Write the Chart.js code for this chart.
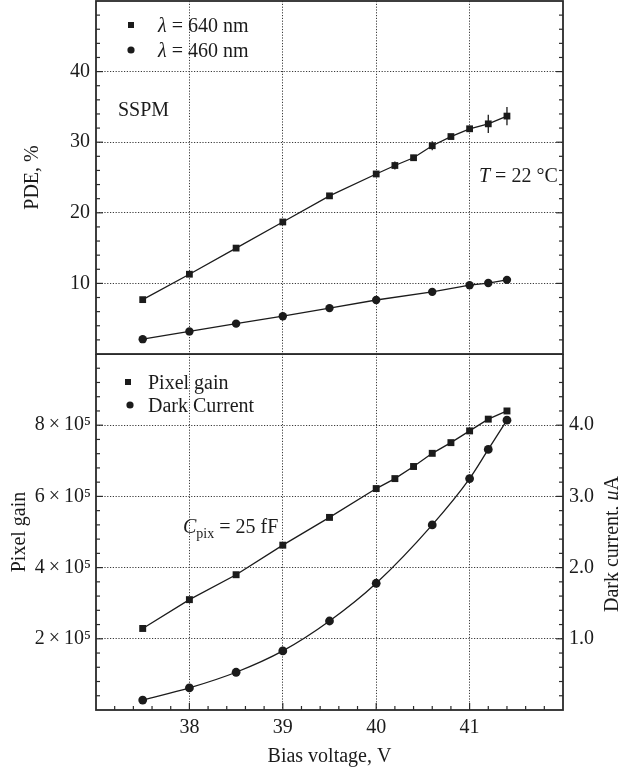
<!DOCTYPE html>
<html>
<head>
<meta charset="utf-8">
<script src="https://cdn.jsdelivr.net/npm/chart.js@4.4.1/dist/chart.umd.min.js"></script>
<style>
  html, body { margin: 0; padding: 0; background: #fff; }
  body { width: 618px; height: 773px; position: relative; overflow: hidden; }
  #graficoPde { position: absolute; left: 0; top: 0; }
  #graficoGain { position: absolute; left: 0; top: 354px; }
</style>
</head>
<body>
<canvas id="graficoPde" width="618" height="356"></canvas>
<canvas id="graficoGain" width="618" height="419"></canvas>
<script>
// datos panel superior (PDE, %)
const voltsPde640 = [37.5, 38, 38.5, 39, 39.5, 40, 40.2, 40.4, 40.6, 40.8, 41, 41.2, 41.4];
const pde640 = [7.7, 11.3, 15.0, 18.7, 22.4, 25.5, 26.7, 27.8, 29.5, 30.8, 31.9, 32.6, 33.7];
const pde640Err = [0, 0, 0, 0, 0, 0, 0.55, 0.4, 0.65, 0.3, 0.3, 1.3, 1.3];
const voltsPde460 = [37.5, 38, 38.5, 39, 39.5, 40, 40.6, 41, 41.2, 41.4];
const pde460 = [2.1, 3.2, 4.3, 5.35, 6.5, 7.65, 8.8, 9.75, 10.05, 10.5];

// datos panel inferior
const voltsGain = [37.5, 38, 38.5, 39, 39.5, 40, 40.2, 40.4, 40.6, 40.8, 41, 41.2, 41.4];
const pixelGain = [2.29e5, 3.10e5, 3.80e5, 4.63e5, 5.41e5, 6.22e5, 6.50e5, 6.84e5, 7.21e5, 7.51e5, 7.84e5, 8.17e5, 8.40e5];
const voltsDark = [37.5, 38, 38.5, 39, 39.5, 40, 40.6, 41, 41.2, 41.4];
const darkCurrent = [0.14, 0.31, 0.53, 0.83, 1.25, 1.78, 2.60, 3.25, 3.66, 4.07];

// ejes
const voltTicks = [38, 39, 40, 41];
const pdeTicks = [10, 20, 30, 40];
const gainTicks = [2e5, 4e5, 6e5, 8e5];
const darkTicks = [1, 2, 3, 4];

const ink = '#1b1b1b';
const serif = '"Liberation Serif", "Times New Roman", serif';
const tickFont = { family: serif, size: 20 };

const toPoints = (xs, ys) => xs.map((x, i) => ({ x: x, y: ys[i] }));

const dottedGrid = (list) => ({
    drawTicks: false,
    lineWidth: 1,
    color: ctx => (ctx.tick && list.includes(ctx.tick.value)) ? '#3a3a3a' : 'rgba(0,0,0,0)'
});
const hiddenBorder = { display: false, dash: [1.2, 1.6] };

// sin relleno extra para las etiquetas de los extremos
const noPad = s => { s.paddingTop = 0; s.paddingBottom = 0; s.paddingLeft = 0; s.paddingRight = 0; };

// texto con partes en cursiva / subindice
const drawRich = (ctx, x, y, parts, align) => {
    const fontOf = p => (p.italic ? 'italic ' : '') + (p.sub ? 14 : 20) + 'px ' + serif;
    let total = 0;
    parts.forEach(p => { ctx.font = fontOf(p); total += ctx.measureText(p.t).width; });
    let cx = align === 'center' ? x - total / 2 : x;
    parts.forEach(p => {
        ctx.font = fontOf(p);
        ctx.fillText(p.t, cx, y + (p.sub ? 5 : 0));
        cx += ctx.measureText(p.t).width;
    });
};

const panelPlugin = {
    id: 'panel',
    afterDatasetsDraw(chart) {
        const ctx = chart.ctx;
        chart.data.datasets.forEach((ds, i) => {
            if (!ds.errors) return;
            const meta = chart.getDatasetMeta(i);
            const ys = chart.scales[meta.yAxisID];
            ctx.save();
            ctx.strokeStyle = ink;
            ctx.lineWidth = 1.3;
            ds.data.forEach((p, j) => {
                const e = ds.errors[j];
                if (!e) return;
                const x = chart.scales.x.getPixelForValue(p.x);
                ctx.beginPath();
                ctx.moveTo(x, ys.getPixelForValue(p.y - e));
                ctx.lineTo(x, ys.getPixelForValue(p.y + e));
                ctx.stroke();
            });
            ctx.restore();
        });
    },
    afterDraw(chart, args, opts) {
        const ctx = chart.ctx;
        const a = chart.chartArea;
        ctx.save();
        ctx.strokeStyle = '#2a2a2a';
        ctx.lineWidth = 1.2;
        // marcas hacia adentro
        (opts.marks || []).forEach(m => {
            const s = chart.scales[m.scale];
            const n = Math.round((s.max - s.min) / m.step);
            for (let k = 1; k < n; k++) {
                const v = s.min + k * m.step;
                const r = v / m.major;
                const len = Math.abs(r - Math.round(r)) < 1e-6 ? 7 : 4;
                const p = s.getPixelForValue(v);
                m.sides.forEach(side => {
                    ctx.beginPath();
                    if (side === 'left') { ctx.moveTo(a.left, p); ctx.lineTo(a.left + len, p); }
                    if (side === 'right') { ctx.moveTo(a.right, p); ctx.lineTo(a.right - len, p); }
                    if (side === 'bottom') { ctx.moveTo(p, a.bottom); ctx.lineTo(p, a.bottom - len); }
                    ctx.stroke();
                });
            }
        });
        // marco
        ctx.lineWidth = 1.8;
        ctx.strokeStyle = '#2a2a2a';
        ctx.strokeRect(a.left, a.top, a.right - a.left, a.bottom - a.top);

        // leyenda
        ctx.fillStyle = ink;
        ctx.textBaseline = 'alphabetic';
        (opts.legend || []).forEach(item => {
            if (item.marker === 'rect') {
                ctx.fillRect(item.mx - 3, item.y - 3, 6, 6);
            } else {
                ctx.beginPath();
                ctx.arc(item.mx, item.y, 3.6, 0, Math.PI * 2);
                ctx.fill();
            }
            drawRich(ctx, item.tx, item.y + 7, item.parts, 'left');
        });
        // anotaciones
        (opts.notes || []).forEach(n => {
            if (n.rotate) {
                ctx.save();
                ctx.translate(n.x, n.y);
                ctx.rotate(-Math.PI / 2);
                drawRich(ctx, 0, 7, n.parts, 'center');
                ctx.restore();
            } else {
                drawRich(ctx, n.x, n.y + 7, n.parts, 'left');
            }
        });
        ctx.restore();
    }
};

// GRAFICA 1 - PDE
window.graficaPde = new Chart(document.getElementById('graficoPde'), {
    type: 'scatter',
    data: {
        datasets: [{
            label: 'λ = 640 nm',
            data: toPoints(voltsPde640, pde640),
            errors: pde640Err,
            showLine: true,
            borderColor: ink,
            borderWidth: 1.3,
            pointStyle: 'rect',
            pointRadius: 4.8,
            pointBackgroundColor: ink,
            pointBorderWidth: 0
        }, {
            label: 'λ = 460 nm',
            data: toPoints(voltsPde460, pde460),
            showLine: true,
            borderColor: ink,
            borderWidth: 1.3,
            pointStyle: 'circle',
            pointRadius: 4.2,
            pointBackgroundColor: ink,
            pointBorderWidth: 0
        }]
    },
    options: {
        responsive: false,
        animation: false,
        layout: { autoPadding: false, padding: { top: 1, bottom: 2, left: 0, right: 55 } },
        plugins: {
            legend: { display: false },
            tooltip: { enabled: false },
            panel: {
                marks: [{ scale: 'y', step: 2, major: 10, sides: ['left', 'right'] }],
                legend: [
                    { marker: 'rect', mx: 131, tx: 158, y: 25, parts: [{ t: 'λ', italic: true }, { t: ' = 640 nm' }] },
                    { marker: 'circle', mx: 131, tx: 158, y: 50, parts: [{ t: 'λ', italic: true }, { t: ' = 460 nm' }] }
                ],
                notes: [
                    { x: 118, y: 109, parts: [{ t: 'SSPM' }] },
                    { x: 479, y: 175, parts: [{ t: 'T', italic: true }, { t: ' = 22 °C' }] }
                ]
            }
        },
        scales: {
            x: {
                type: 'linear', min: 37, max: 42,
                ticks: { display: false, stepSize: 1 },
                grid: dottedGrid(voltTicks),
                border: hiddenBorder,
                afterFit: s => { noPad(s); s.height = 0; }
            },
            y: {
                min: 0, max: 50,
                ticks: {
                    stepSize: 10, font: tickFont, color: ink, padding: 6,
                    callback: v => pdeTicks.includes(v) ? String(v) : ''
                },
                grid: dottedGrid(pdeTicks),
                border: hiddenBorder,
                title: { display: true, text: 'PDE, %', font: tickFont, color: ink, padding: { top: 21, bottom: 0 } },
                afterFit: s => { noPad(s); s.width = 96; }
            }
        }
    },
    plugins: [panelPlugin]
});

// GRAFICA 2 - ganancia y corriente oscura
window.graficaGain = new Chart(document.getElementById('graficoGain'), {
    type: 'scatter',
    data: {
        datasets: [{
            label: 'Pixel gain',
            data: toPoints(voltsGain, pixelGain),
            yAxisID: 'y',
            showLine: true,
            borderColor: ink,
            borderWidth: 1.3,
            pointStyle: 'rect',
            pointRadius: 4.9,
            pointBackgroundColor: ink,
            pointBorderWidth: 0
        }, {
            label: 'Dark Current',
            data: toPoints(voltsDark, darkCurrent),
            yAxisID: 'y2',
            showLine: true,
            cubicInterpolationMode: 'monotone',
            borderColor: ink,
            borderWidth: 1.3,
            pointStyle: 'circle',
            pointRadius: 4.4,
            pointBackgroundColor: ink,
            pointBorderWidth: 0
        }]
    },
    options: {
        responsive: false,
        animation: false,
        layout: { autoPadding: false, padding: 0 },
        plugins: {
            legend: { display: false },
            tooltip: { enabled: false },
            panel: {
                marks: [
                    { scale: 'y', step: 0.4e5, major: 2e5, sides: ['left'] },
                    { scale: 'y2', step: 0.2, major: 1, sides: ['right'] },
                    { scale: 'x', step: 0.2, major: 1, sides: ['bottom'] }
                ],
                legend: [
                    { marker: 'rect', mx: 128, tx: 148, y: 28, parts: [{ t: 'Pixel gain' }] },
                    { marker: 'circle', mx: 130, tx: 148, y: 51, parts: [{ t: 'Dark Current' }] }
                ],
                notes: [
                    { x: 183, y: 172, parts: [{ t: 'C', italic: true }, { t: 'pix', sub: true }, { t: ' = 25 fF' }] },
                    { x: 611, y: 190, rotate: true, parts: [{ t: 'Dark current, ' }, { t: 'μ', italic: true }, { t: 'A' }] }
                ]
            }
        },
        scales: {
            x: {
                type: 'linear', min: 37, max: 42,
                ticks: {
                    stepSize: 1, font: tickFont, color: ink, padding: 6,
                    callback: v => voltTicks.includes(v) ? String(v) : ''
                },
                grid: dottedGrid(voltTicks),
                border: hiddenBorder,
                title: { display: true, text: 'Bias voltage, V', font: tickFont, color: ink, padding: { top: 0, bottom: 4 } },
                afterFit: s => { noPad(s); s.height = 63; }
            },
            y: {
                position: 'left',
                min: 0, max: 10e5,
                ticks: {
                    stepSize: 2e5, font: tickFont, color: ink, padding: 5,
                    callback: v => gainTicks.includes(v) ? (v / 1e5) + '\u2009×\u200910⁵' : ''
                },
                grid: dottedGrid(gainTicks),
                border: hiddenBorder,
                title: { display: true, text: 'Pixel gain', font: tickFont, color: ink, padding: { top: 8, bottom: 0 } },
                afterFit: s => { noPad(s); s.width = 96; }
            },
            y2: {
                position: 'right',
                min: 0, max: 5,
                ticks: {
                    stepSize: 1, font: tickFont, color: ink, padding: 6,
                    callback: v => darkTicks.includes(v) ? v.toFixed(1) : ''
                },
                grid: { display: false, drawTicks: false },
                border: { display: false },
                afterFit: s => { noPad(s); s.width = 55; }
            }
        }
    },
    plugins: [panelPlugin]
});
</script>
</body>
</html>
